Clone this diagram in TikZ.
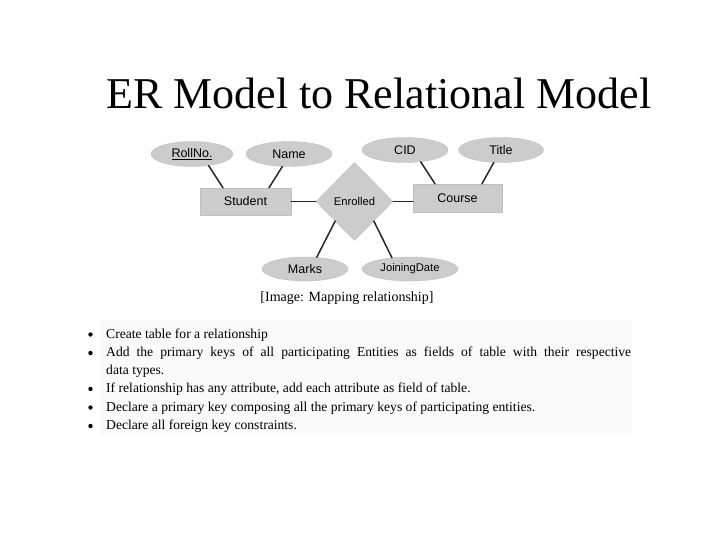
\documentclass[tikz,border=0pt]{standalone}
\usepackage{fontspec}
\setmainfont{Liberation Serif}
\newfontfamily\erfont{Liberation Sans}
\usetikzlibrary{shapes.geometric}

\tikzset{
  erbase/.style={fill=gray!40, draw=gray!50, inner sep=0pt, font=\erfont\fontsize{12.5}{14}\selectfont},
  attr/.style={erbase, ellipse, minimum width=86pt, minimum height=25pt},
  entity/.style={erbase, rectangle, minimum width=91pt, minimum height=27pt},
  relship/.style={erbase, diamond, minimum width=77pt, minimum height=78pt, font=\erfont\fontsize{11.2}{13}\selectfont},
  link/.style={line width=1.5pt, black!85},
  bulletline/.style={anchor=base west, inner sep=0pt, font=\fontsize{13.6}{18.2}\selectfont}
}

\begin{document}
\begin{tikzpicture}[x=1pt, y=-1pt, line cap=round, line join=round]
	\useasboundingbox (0,0) rectangle (720,540);
	% title
	\node[anchor=base west, inner sep=0pt, font=\fontsize{44}{50}\selectfont] (heading) at (106,108.5) {ER Model to Relational Model};
	% ER diagram
	\node[entity] (student) at (245.5,201.5) {Student};
	\node[entity, minimum width=89pt, minimum height=28pt] (course) at (457.5,198) {Course};
	\node[relship] (enrolled) at (354.5,201.5) {Enrolled};
	\node[attr, minimum width=82pt] (rollno) at (192,154) {\underline{RollNo.}};
	\node[attr] (name) at (289,154) {Name};
	\node[attr] (cid) at (405,150) {CID};
	\node[attr, minimum width=85pt] (title) at (501,150) {Title};
	\node[attr, minimum height=24pt] (marks) at (305,269) {Marks};
	\node[attr, minimum width=96pt, minimum height=24pt, font=\erfont\fontsize{11.2}{13}\selectfont] (joining) at (410,269) {JoiningDate};
	\draw[link] (rollno.-35) -- ([xshift=-22.5pt]student.north);
	\draw[link] (name.242) -- ([xshift=23.5pt]student.north);
	\draw[link] (cid.-37) -- ([xshift=-22.5pt]course.north);
	\draw[link] (title.240) -- ([xshift=24.5pt]course.north);
	\draw[link] (student.east) -- (enrolled.west);
	\draw[link] (enrolled.east) -- (course.west |- enrolled.east);
	\draw[link] (enrolled.south west) -- (marks.45);
	\draw[link] (enrolled.south east) -- (joining.148);
	\node[font=\fontsize{14}{16}\selectfont, inner sep=0pt] (caption) at (347,298) {[Image: Mapping relationship]};
	% rules for the table
	\fill[black!2] (100,320) rectangle (632,435);
	\foreach \y in {334.5,353,389,407.5,426}
		\fill (90.5,\y) circle (2.2);
	\node[bulletline] (rule1) at (106,338) {Create table for a relationship};
	\node[bulletline, text width=525pt, align=justify] (rule2) at (106,356.3) {Add the primary keys of all participating Entities as fields of table with their respective\linebreak data types.};
	\node[bulletline] (rule3) at (106,392.5) {If relationship has any attribute, add each attribute as field of table.};
	\node[bulletline] (rule4) at (106,411) {Declare a primary key composing all the primary keys of participating entities.};
	\node[bulletline] (rule5) at (106,429.3) {Declare all foreign key constraints.};
\end{tikzpicture}
\end{document}
